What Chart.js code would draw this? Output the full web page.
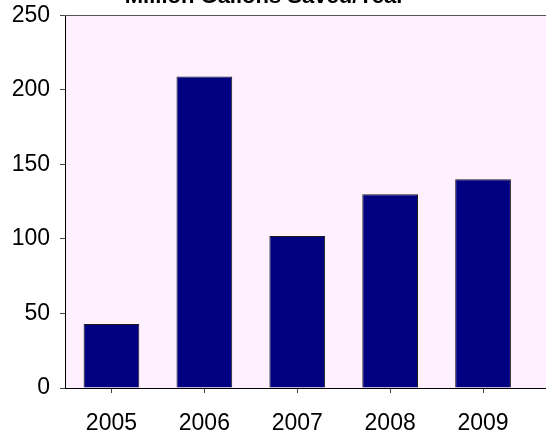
<!DOCTYPE html>
<html>
<head>
<meta charset="utf-8">
<script src="https://cdn.jsdelivr.net/npm/chart.js@4/dist/chart.umd.min.js"></script>
<style>
  html, body { margin: 0; padding: 0; background: #fff; overflow: hidden; }
  #wrap { position: absolute; left: 0; top: -16px; width: 546px; height: 452px; }
</style>
</head>
<body>
<div id="wrap"><canvas id="chart"></canvas></div>
<script>
const years = ['2005', '2006', '2007', '2008', '2009'];
const gallonsSaved = [43, 209, 102, 130, 140];
const yTicks = [0, 50, 100, 150, 200, 250];

const FONT = '"Liberation Sans", Arial, sans-serif';

// pink plot background that runs on to the right edge, plus the top border line
const plotBackground = {
    id: 'plotBackground',
    beforeDraw(chart) {
        const { ctx, chartArea } = chart;
        ctx.save();
        ctx.fillStyle = '#FFF0FF';
        ctx.fillRect(chartArea.left, chartArea.top, chart.width - chartArea.left, chartArea.bottom - chartArea.top);
        ctx.restore();
    },
    afterDraw(chart) {
        const { ctx, chartArea } = chart;
        ctx.save();
        ctx.strokeStyle = '#555555';
        ctx.lineWidth = 1;
        ctx.beginPath();
        ctx.moveTo(chartArea.left, Math.round(chartArea.top) + 0.5);
        ctx.lineTo(chart.width, Math.round(chartArea.top) + 0.5);
        ctx.stroke();
        ctx.strokeStyle = '#000000';
        ctx.beginPath();
        ctx.moveTo(chartArea.right, Math.round(chartArea.bottom) + 0.5);
        ctx.lineTo(chart.width, Math.round(chartArea.bottom) + 0.5);
        ctx.stroke();
        ctx.restore();
    }
};

new Chart(document.getElementById('chart'), {
    type: 'bar',
    data: {
        labels: years,
        datasets: [{
            data: gallonsSaved,
            backgroundColor: '#000080',
            borderColor: '#1a1a1a',
            borderWidth: 1,
            barPercentage: 0.6,
            categoryPercentage: 1
        }]
    },
    options: {
        responsive: true,
        maintainAspectRatio: false,
        animation: false,
        layout: { padding: { left: 0, right: 16.5, top: 0, bottom: 0 } },
        plugins: {
            legend: { display: false },
            tooltip: { enabled: false },
            title: {
                display: true,
                text: 'Million Gallons Saved/Year',
                color: '#000',
                font: { family: FONT, size: 22, weight: 'bold' },
                padding: { top: 0, bottom: 5 }
            }
        },
        scales: {
            x: {
                grid: { display: true, offset: false, drawOnChartArea: false, drawTicks: true, tickLength: 5, color: '#444' },
                border: { display: true, color: '#000', width: 1 },
                ticks: { color: '#000', font: { family: FONT, size: 23 }, padding: 17, maxRotation: 0 },
                afterFit(scale) { scale.height = 48; }
            },
            y: {
                min: 0,
                max: 250,
                afterBuildTicks(scale) { scale.ticks = yTicks.map((v) => ({ value: v })); },
                grid: { display: true, drawOnChartArea: false, drawTicks: true, tickLength: 5, color: '#444' },
                border: { display: true, color: '#000', width: 1 },
                ticks: { color: '#000', font: { family: FONT, size: 23 }, padding: 10 },
                afterFit(scale) { scale.width = 65; }
            }
        }
    },
    plugins: [plotBackground]
});
</script>
</body>
</html>
